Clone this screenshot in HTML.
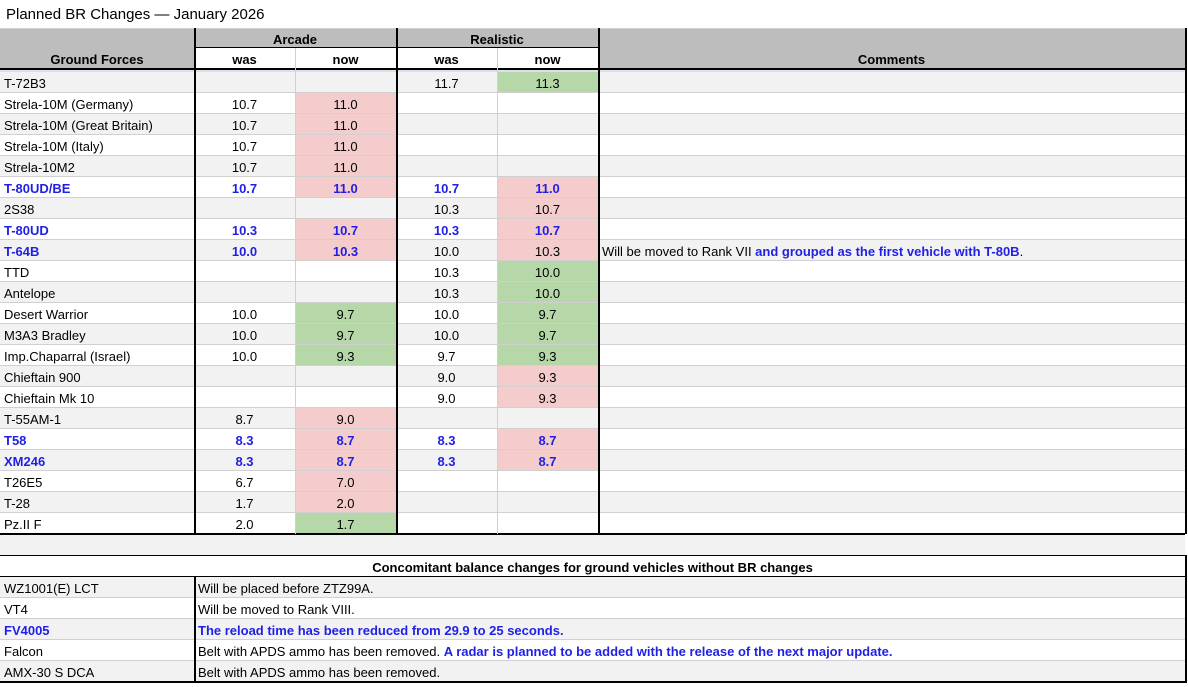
<!DOCTYPE html>
<html><head><meta charset="utf-8"><style>
body{margin:0;width:1188px;height:687px;background:#fff;font-family:"Liberation Sans",Arial,sans-serif;position:relative;overflow:hidden;color:#000}
.c{position:absolute;box-sizing:border-box;font-size:13px;line-height:21px;padding-top:1px;white-space:nowrap;overflow:visible}
.b{color:#1f1fe6;font-weight:bold}
</style></head><body>
<div class="c" style="left:6px;top:3px;font-size:15px">Planned BR Changes — January 2026</div>
<div id="t"></div>
<script>
const names=["T-72B3","Strela-10M (Germany)","Strela-10M (Great Britain)","Strela-10M (Italy)","Strela-10M2","T-80UD/BE","2S38","T-80UD","T-64B","TTD","Antelope","Desert Warrior","M3A3 Bradley","Imp.Chaparral (Israel)","Chieftain 900","Chieftain Mk 10","T-55AM-1","T58","XM246","T26E5","T-28","Pz.II F"];
const arcWas=["","10.7","10.7","10.7","10.7","10.7","","10.3","10.0","","","10.0","10.0","10.0","","","8.7","8.3","8.3","6.7","1.7","2.0"];
const arcNow=["","11.0","11.0","11.0","11.0","11.0","","10.7","10.3","","","9.7","9.7","9.3","","","9.0","8.7","8.7","7.0","2.0","1.7"];
const rbWas=["11.7","","","","","10.7","10.3","10.3","10.0","10.3","10.3","10.0","10.0","9.7","9.0","9.0","","8.3","8.3","","",""];
const rbNow=["11.3","","","","","11.0","10.7","10.7","10.3","10.0","10.0","9.7","9.7","9.3","9.3","9.3","","8.7","8.7","","",""];
const blueRow=[5,7,17,18];
const blueArc=[8];
const extra=[["WZ1001(E) LCT","Will be placed before ZTZ99A.",""],["VT4","Will be moved to Rank VIII.",""],["FV4005","","The reload time has been reduced from 29.9 to 25 seconds."],["Falcon","Belt with APDS ammo has been removed. ","A radar is planned to be added with the release of the next major update."],["AMX-30 S DCA","Belt with APDS ammo has been removed.",""]];
const T=document.getElementById('t');
const PINK="#f4cccc",GREEN="#b6d7a8",GREY="#f2f2f2",HEAD="#bdbdbd";
function cell(x,y,w,h,bg,html,align,cls,name,pad){
 const d=document.createElement('div');
 d.className='c '+(cls||'');
 d.style.cssText=`left:${x}px;top:${y}px;width:${w}px;height:${h}px;background:${bg||'transparent'};text-align:${align||'left'};padding-left:${pad||0}px`;
 d.innerHTML=html;
 
 
 T.appendChild(d);return d;
}
function line(x,y,w,h,col){const d=document.createElement('div');d.style.cssText=`position:absolute;left:${x}px;top:${y}px;width:${w}px;height:${h}px;background:${col}`;T.appendChild(d);}
function col(was,now){if(!was||!now)return null;return parseFloat(now)>parseFloat(was)?PINK:GREEN;}
cell(0,28,1185,41,HEAD,'','left','','header-bg');
cell(194,48,404,21,'#fff','','left','','subheader-bg');
cell(0,48,194,21,'transparent','<b>Ground Forces</b>','center','','header-ground-forces');
cell(194,28,202,20,'transparent','<b>Arcade</b>','center','','header-arcade');
cell(396,28,202,20,'transparent','<b>Realistic</b>','center','','header-realistic');
[['was',194],['now',295],['was',396],['now',497]].forEach(([t,x])=>cell(x,48,101,21,'transparent','<b>'+t+'</b>','center','','header-'+t));
cell(598,48,587,21,'transparent','<b>Comments</b>','center','','header-comments');
line(0,28,1185,1,'#d0d0d0');line(194,47,404,1,'#000');line(0,68,1185,2,'#000');line(0,70,1185,2,'#d9e1ea');
const R0=72,RH=21;
names.forEach((n,i)=>{
 const y=R0+i*RH,bg=i%2?'#fff':GREY,blue=blueRow.includes(i),ba=blue||blueArc.includes(i);
 cell(0,y,1185,RH,bg,'','left','','row-bg');
 cell(0,y,194,RH,'transparent',n,'left',ba?'b':'','vehicle-name',4);
 cell(194,y,101,RH,'transparent',arcWas[i],'center',ba?'b':'','arcade-was');
 cell(295,y,101,RH,col(arcWas[i],arcNow[i])||'transparent',arcNow[i],'center',ba?'b':'','arcade-now');
 cell(396,y,101,RH,'transparent',rbWas[i],'center',blue?'b':'','realistic-was');
 cell(497,y,101,RH,col(rbWas[i],rbNow[i])||'transparent',rbNow[i],'center',blue?'b':'','realistic-now');
 if(i===8)cell(598,y,587,RH,'transparent','Will be moved to Rank VII <span class="b">and grouped as the first vehicle with T-80B</span>.','left','','comment',4);
 line(0,y+RH-1,1185,1,'#d0d0d0');
});
const endY=R0+names.length*RH;
line(0,endY-1,1185,2,'#000');
cell(0,endY+1,1185,20,GREY,'','left','','spacer-row');
[295,497].forEach(x=>line(x,48,1,endY-48,'#d0d0d0'));
[194,396,598].forEach(x=>line(x,28,2,endY-28,'#000'));
line(1185,28,2,endY-28,'#000');
const Y2=endY+21;
line(0,Y2,1187,2,'#000');
cell(0,Y2+1,1185,21,'#fff','<b>Concomitant balance changes for ground vehicles without BR changes</b>','center','','concomitant-header');
line(0,Y2+21,1187,2,'#000');
extra.forEach((e,i)=>{
 const y=Y2+22+i*21,bg=i%2?'#fff':GREY;
 cell(0,y,1185,21,bg,'','left','','note-row-bg');
 cell(0,y,194,21,'transparent',e[0],'left',i===2?'b':'','note-vehicle',4);
 cell(194,y,991,21,'transparent',e[1]+(e[2]?'<span class="b">'+e[2]+'</span>':''),'left','','note-text',4);
 line(0,y+20,1185,1,'#d0d0d0');
});
const endY2=Y2+22+extra.length*21;
line(0,endY2-1,1187,2,'#000');
line(194,Y2+22,2,endY2-Y2-22,'#000');
line(1185,Y2,2,endY2-Y2,'#000');
</script>
</body></html>
